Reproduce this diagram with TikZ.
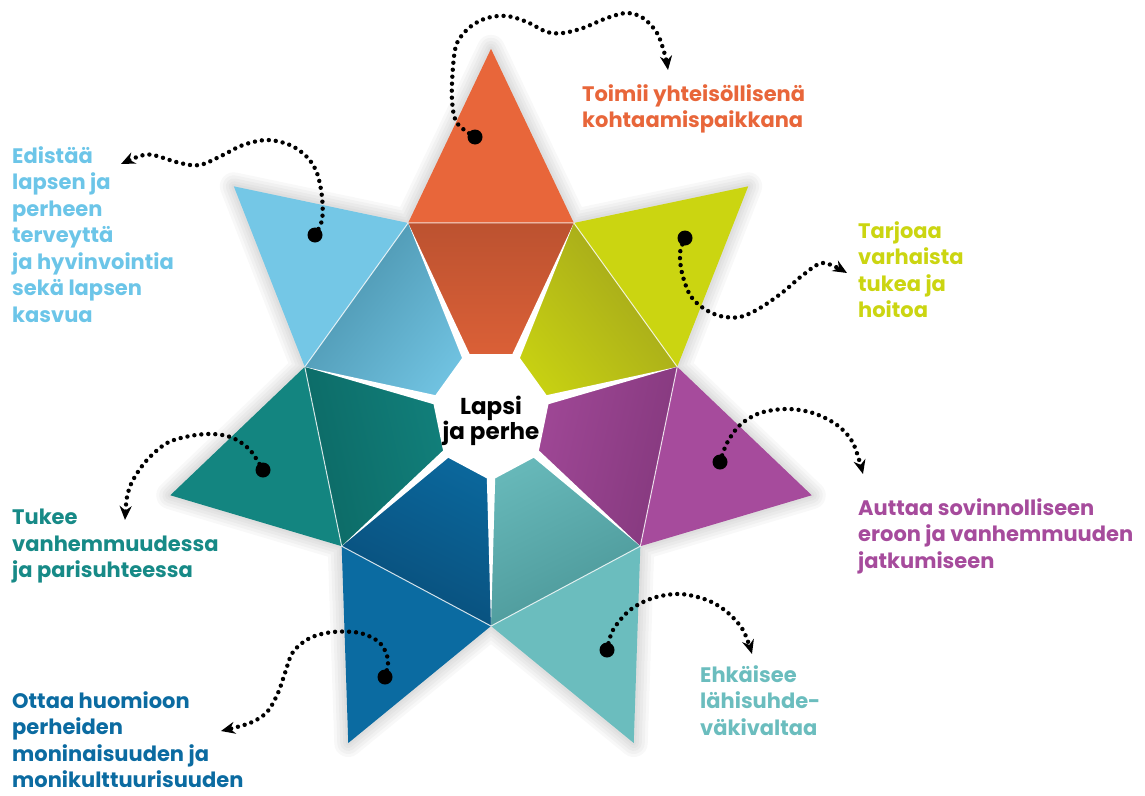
\documentclass[tikz,border=0pt]{standalone}
\usepackage{fontspec}
\setmainfont{Poppins}
\usetikzlibrary{arrows.meta,calc}
\definecolor{corange}{HTML}{E8663A}
\definecolor{cyellow}{HTML}{CBD511}
\definecolor{cpurple}{HTML}{A64B9C}
\definecolor{cltteal}{HTML}{6BBDBE}
\definecolor{cdblue}{HTML}{0B6BA1}
\definecolor{cteal}{HTML}{138580}
\definecolor{cltblue}{HTML}{74C7E6}
\definecolor{dorange}{HTML}{BC5230}
\definecolor{dyellow}{HTML}{A2A51C}
\definecolor{dpurple}{HTML}{85397E}
\definecolor{dltteal}{HTML}{4C9899}
\definecolor{ddblue}{HTML}{094E7A}
\definecolor{dteal}{HTML}{0C6A66}
\definecolor{dltblue}{HTML}{4A92AC}
\definecolor{tltblue}{HTML}{6CC5E8}
\definecolor{tteal}{HTML}{178A87}
\tikzset{
  lbl/.style={anchor=north west, inner sep=0pt, align=left, font=\fontsize{21}{26.5}\selectfont\bfseries},
  dotn/.style={circle, fill=black, minimum size=15pt, inner sep=0pt},
  conn/.style={line width=4.4pt, dash pattern=on 0pt off 7pt, line cap=round, -{Stealth[length=14pt,width=12pt]}},
  fold/.style={white, line width=1pt, opacity=0.8},
}
\begin{document}
\begin{tikzpicture}[x=1pt,y=-1pt]
\useasboundingbox (0,0) rectangle (1145,795);
\begin{scope}[shift={(491,414)}, yscale=1.11]
  \coordinate (C) at (0,0);
  \foreach \k in {0,...,6} {
    \coordinate (T\k) at ({-90+\k*360/7}:329);
    \coordinate (V\k) at ({-90+(\k+0.5)*360/7}:191);
    \coordinate (H\k) at ({-90+(\k+0.5)*360/7}:60);
    \coordinate (WA\k) at ({(\k+0.5)*360/7}:6);
    \coordinate (WB\k) at ({180+(\k+0.5)*360/7}:6);
  }
\end{scope}
% soft shadow
\foreach \w in {28,22,16,10,5} {
  \draw[line width=\w pt, line join=round, black, opacity=0.028]
    (T0) -- (V0) -- (T1) -- (V1) -- (T2) -- (V2) -- (T3) -- (V3) -- (T4) -- (V4) -- (T5) -- (V5) -- (T6) -- (V6) -- cycle;
}
% outer triangles
\fill[corange] (T0) -- (V0) -- (V6) -- cycle;
\fill[cyellow] (T1) -- (V1) -- (V0) -- cycle;
\fill[cpurple] (T2) -- (V2) -- (V1) -- cycle;
\fill[cltteal] (T3) -- (V3) -- (V2) -- cycle;
\fill[cdblue] (T4) -- (V4) -- (V3) -- cycle;
\fill[cteal] (T5) -- (V5) -- (V4) -- cycle;
\fill[cltblue] (T6) -- (V6) -- (V5) -- cycle;
% inner pieces
\shade[top color=dorange, middle color=corange, bottom color=corange, shading angle=0] (C) -- (V6) -- (V0) -- cycle;
\shade[top color=dyellow, middle color=cyellow, bottom color=cyellow, shading angle=-51.43] (C) -- (V0) -- (V1) -- cycle;
\shade[top color=dpurple, middle color=cpurple, bottom color=cpurple, shading angle=-102.86] (C) -- (V1) -- (V2) -- cycle;
\shade[top color=dltteal, middle color=cltteal, bottom color=cltteal, shading angle=-154.29] (C) -- (V2) -- (V3) -- cycle;
\shade[top color=ddblue, middle color=cdblue, bottom color=cdblue, shading angle=-205.71] (C) -- (V3) -- (V4) -- cycle;
\shade[top color=dteal, middle color=cteal, bottom color=cteal, shading angle=-257.14] (C) -- (V4) -- (V5) -- cycle;
\shade[top color=dltblue, middle color=cltblue, bottom color=cltblue, shading angle=51.43] (C) -- (V5) -- (V6) -- cycle;
% fold lines
\draw[fold] (V0) -- (V1) -- (V2) -- (V3) -- (V4) -- (V5) -- (V6) -- cycle;
% white gaps and centre
\foreach \k in {0,...,6} {
  \fill[white] (V\k) -- (WA\k) -- (WB\k) -- cycle;
}
\fill[white] (H0) -- (H1) -- (H2) -- (H3) -- (H4) -- (H5) -- (H6) -- cycle;
% centre text
\node[align=center, inner sep=0pt, font=\fontsize{23}{25}\selectfont\bfseries] (center) at (491,421) {Lapsi\\ja perhe};
% labels
\node[lbl, text=corange] (l0) at (582,84) {Toimii yhteisöllisenä\\kohtaamispaikkana};
\node[lbl, text=tltblue] (l6) at (12,146) {Edistää\\lapsen ja\\perheen\\terveyttä\\ja hyvinvointia\\sekä lapsen\\kasvua};
\node[lbl, text=cyellow] (l1) at (858,221) {Tarjoaa\\varhaista\\tukea ja\\hoitoa};
\node[lbl, text=tteal] (l5) at (12,509) {Tukee\\vanhemmuudessa\\ja parisuhteessa};
\node[lbl, text=cpurple] (l2) at (858,498) {Auttaa sovinnolliseen\\eroon ja vanhemmuuden\\jatkumiseen};
\node[lbl, text=cltteal] (l3) at (700,665) {Ehkäisee\\lähisuhde-\\väkivaltaa};
\node[lbl, text=cdblue] (l4) at (12,691) {Ottaa huomioon\\perheiden\\moninaisuuden ja\\monikulttuurisuuden};
% dots
\node[dotn] (d0) at (475,137) {};
\node[dotn] (d6) at (315,235) {};
\node[dotn] (d1) at (685,238) {};
\node[dotn] (d5) at (263,470) {};
\node[dotn] (d2) at (720,462) {};
\node[dotn] (d3) at (607,650) {};
\node[dotn] (d4) at (385,677) {};
% arrow ends
\coordinate (e0) at (668,70);
\coordinate (e6) at (121,164);
\coordinate (e1) at (847,273);
\coordinate (e5) at (125,520);
\coordinate (e2) at (863,474);
\coordinate (e3) at (752,654);
\coordinate (e4) at (221,731);
% connectors
\draw[conn] plot[smooth, tension=0.55] coordinates {(d0.center) (457,123) (452,100) (453,67) (457,43) (470,27) (487,18) (507,16) (527,22) (547,32) (563,33) (583,28) (607,18) (627,13) (643,18) (657,33) (665,55) (e0)};
\draw[conn] plot[smooth, tension=0.55] coordinates {(d6.center) (322,220) (322,197) (317,173) (307,157) (290,145) (267,140) (243,145) (223,155) (200,165) (180,163) (153,155) (140,156) (e6)};
\draw[conn] plot[smooth, tension=0.55] coordinates {(d1.center) (680,253) (682,273) (690,295) (703,308) (720,316) (740,317) (760,308) (783,292) (803,275) (823,263) (e1)};
\draw[conn] plot[smooth, tension=0.55] coordinates {(d5.center) (250,450) (233,438) (213,434) (190,436) (167,443) (147,460) (133,480) (127,497) (e5)};
\draw[conn] plot[smooth, tension=0.55] coordinates {(d2.center) (727,443) (740,425) (760,413) (787,409) (813,413) (837,425) (853,443) (e2)};
\draw[conn] plot[smooth, tension=0.55] coordinates {(d3.center) (613,630) (630,610) (653,598) (680,594) (707,600) (727,612) (743,630) (e3)};
\draw[conn] plot[smooth, tension=0.55] coordinates {(d4.center) (388,660) (380,643) (360,633) (333,632) (310,638) (293,652) (285,673) (278,693) (267,712) (250,723) (e4)};
\end{tikzpicture}
\end{document}
